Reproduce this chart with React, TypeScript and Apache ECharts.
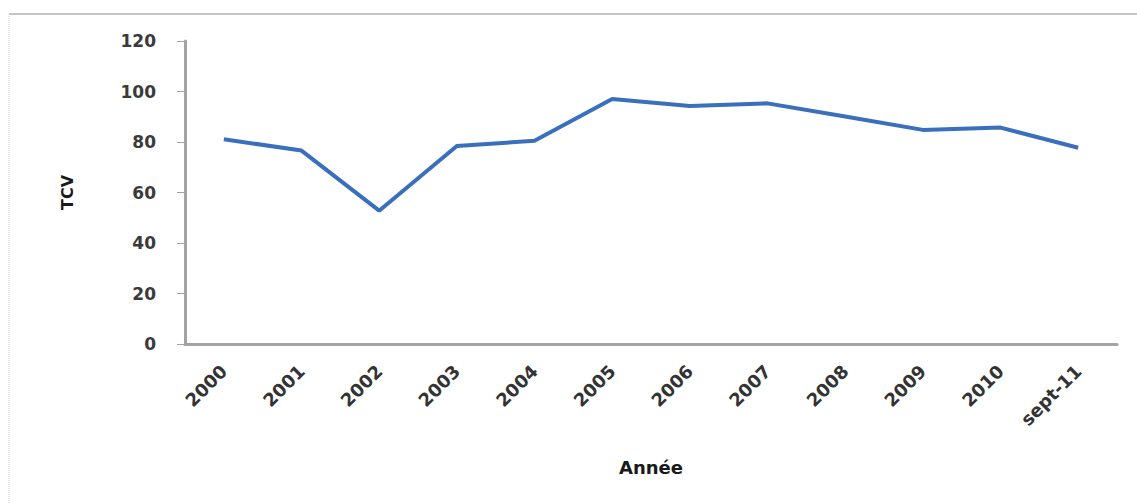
import React, { useEffect, useRef } from "react";
import * as echarts from "echarts";

const categories = ["2000", "2001", "2002", "2003", "2004", "2005", "2006", "2007", "2008", "2009", "2010", "sept-11"];
const tcvValues = [81.1, 76.6, 52.8, 78.4, 80.5, 97.0, 94.3, 95.3, 90.1, 84.8, 85.7, 77.7];
const yTicks = { min: 0, max: 120, interval: 20 };
const xAxisTitle = "Année";
const yAxisTitle = "TCV";

export default function App() {
  const ref = useRef<HTMLDivElement>(null);
  useEffect(() => {
    if (!ref.current) return;
    const chart = echarts.init(ref.current, undefined, { renderer: "svg" });
    chart.setOption({
      animation: false,
      backgroundColor: "#ffffff",
      grid: { left: 185, right: 20, top: 41, bottom: 160 },
      graphic: [
        { type: "line", shape: { x1: 9, y1: 14, x2: 1137, y2: 14 }, style: { stroke: "#c4c4c4", lineWidth: 2 }, silent: true },
        { type: "line", shape: { x1: 9, y1: 14, x2: 9, y2: 504 }, style: { stroke: "#d6d6d6", lineWidth: 1, lineDash: [1, 1] }, silent: true },
      ],
      xAxis: {
        type: "category",
        data: categories,
        boundaryGap: true,
        name: xAxisTitle,
        nameLocation: "middle",
        nameGap: 114,
        nameTextStyle: { fontFamily: "DejaVu Sans", fontWeight: "bold", fontSize: 18, color: "#1a1a1a" },
        axisLine: { lineStyle: { color: "#a3a3a3", width: 3 } },
        axisTick: { show: false },
        axisLabel: {
          rotate: 45,
          margin: 24,
          interval: 0,
          fontFamily: "DejaVu Sans",
          fontWeight: "bold",
          fontSize: 18,
          color: "#333333",
        },
        splitLine: { show: false },
      },
      yAxis: {
        type: "value",
        min: yTicks.min,
        max: yTicks.max,
        interval: yTicks.interval,
        name: yAxisTitle,
        nameLocation: "middle",
        nameGap: 110,
        nameRotate: 90,
        nameTextStyle: { fontFamily: "DejaVu Sans", fontWeight: "bold", fontSize: 16, color: "#1a1a1a" },
        axisLine: { show: true, lineStyle: { color: "#a3a3a3", width: 3 } },
        axisTick: { show: true, inside: false, length: 8, lineStyle: { color: "#a3a3a3", width: 1 } },
        axisLabel: {
          margin: 29,
          fontFamily: "DejaVu Sans",
          fontWeight: "bold",
          fontSize: 17,
          color: "#3a3a3a",
        },
        splitLine: { show: false },
      },
      series: [
        {
          type: "line",
          data: tcvValues,
          symbol: "none",
          lineStyle: { color: "#3a6fbe", width: 4 },
          itemStyle: { color: "#3a6fbe" },
        },
      ],
    });
    return () => chart.dispose();
  }, []);
  return <div ref={ref} style={{ position: "absolute", left: 0, top: 0, width: 1137, height: 504 }} />;
}
